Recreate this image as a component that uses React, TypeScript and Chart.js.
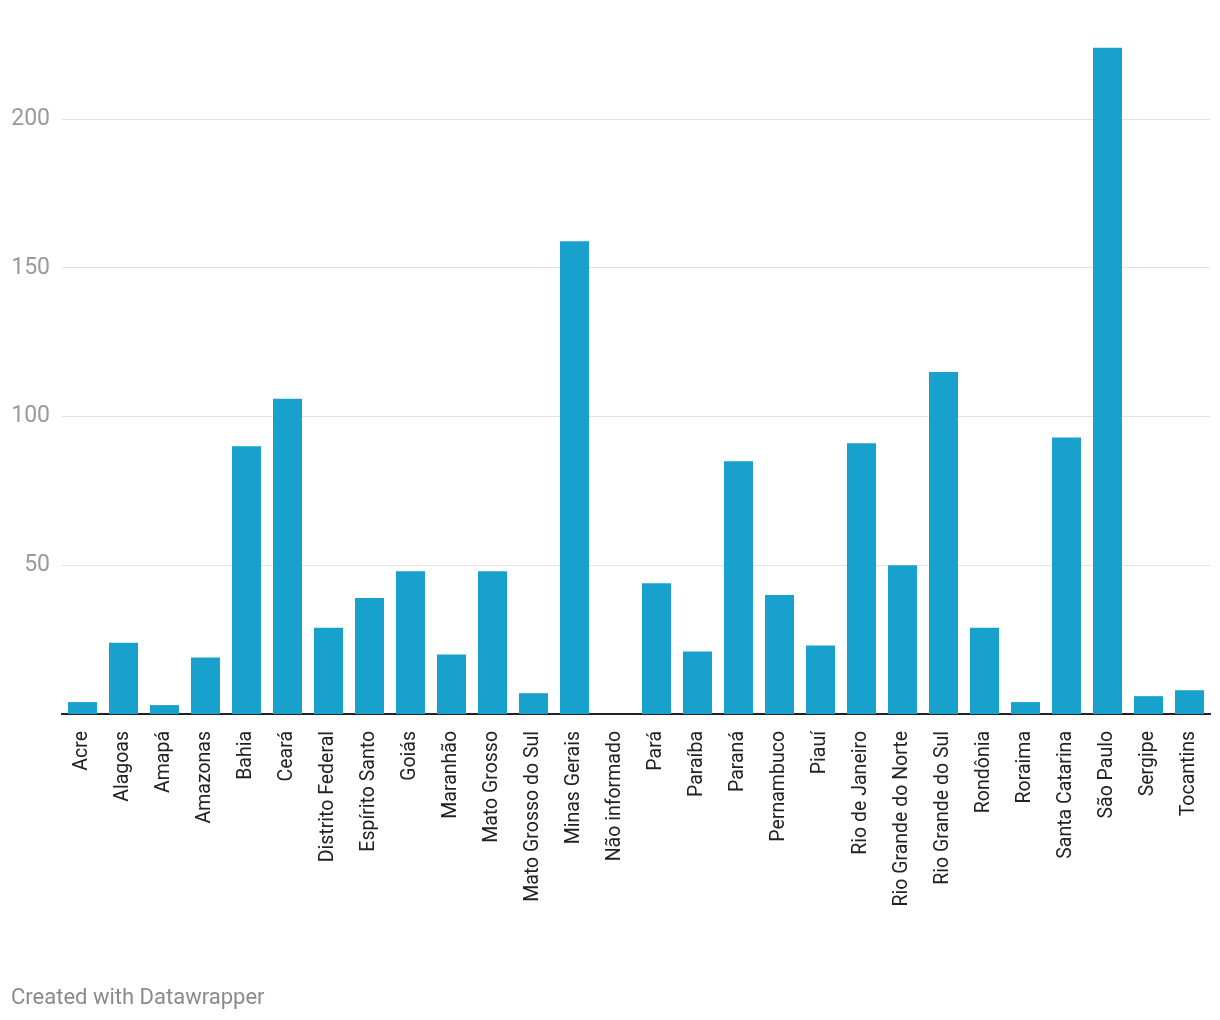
import React, { useEffect, useRef } from "react";
import { Chart, registerables } from "chart.js";

Chart.register(...registerables);

const categories = [
  "Acre", "Alagoas", "Amapá", "Amazonas", "Bahia", "Ceará", "Distrito Federal",
  "Espírito Santo", "Goiás", "Maranhão", "Mato Grosso", "Mato Grosso do Sul",
  "Minas Gerais", "Não informado", "Pará", "Paraíba", "Paraná", "Pernambuco",
  "Piauí", "Rio de Janeiro", "Rio Grande do Norte", "Rio Grande do Sul",
  "Rondônia", "Roraima", "Santa Catarina", "São Paulo", "Sergipe", "Tocantins",
];

const values = [
  4, 24, 3, 19, 90, 106, 29, 39, 48, 20, 48, 7, 159, 0, 44, 21, 85, 40, 23, 91,
  50, 115, 29, 4, 93, 224, 6, 8,
];

const yTicks = [50, 100, 150, 200];

const footerText = "Created with Datawrapper";

export default function App() {
  const ref = useRef<HTMLCanvasElement>(null);

  useEffect(() => {
    if (!ref.current) return;
    const chart = new Chart(ref.current, {
      type: "bar",
      data: {
        labels: categories,
        datasets: [
          {
            data: values,
            backgroundColor: "#18a1cd",
            borderWidth: 0,
            categoryPercentage: 1,
            barPercentage: 0.707,
          },
        ],
      },
      options: {
        responsive: false,
        animation: false,
        devicePixelRatio: 1,
        layout: { padding: { left: 0, right: 10, top: 30, bottom: 0 } },
        plugins: {
          legend: { display: false },
          tooltip: { enabled: false },
        },
        scales: {
          x: {
            grid: { display: false, drawTicks: false },
            border: { display: true, color: "#222", width: 2 },
            ticks: {
              autoSkip: false,
              maxRotation: 90,
              minRotation: 90,
              padding: 17,
              color: "#222",
              font: { family: "Roboto", size: 19.5 },
            },
            afterFit: (scale: any) => {
              scale.height = 306;
              scale.paddingLeft = 0;
              scale.paddingRight = 0;
            },
          },
          y: {
            min: 0,
            max: 230,
            grid: { color: "#e3e3e3", drawTicks: false, lineWidth: 1 },
            border: { display: false },
            ticks: {
              padding: 12,
              color: "#9a9a9a",
              font: { family: "Roboto", size: 23 },
            },
            afterBuildTicks: (scale: any) => {
              scale.ticks = yTicks.map((v) => ({ value: v }));
            },
            afterFit: (scale: any) => {
              scale.width = 62;
              scale.paddingTop = 0;
              scale.paddingBottom = 0;
            },
          },
        },
      },
    });
    return () => chart.destroy();
  }, []);

  return (
    <div style={{ position: "fixed", left: 0, top: 0, width: 1220, height: 1020, background: "#fff" }}>
      <canvas ref={ref} width={1220} height={1020} style={{ display: "block" }} />
      <div
        style={{
          position: "absolute",
          left: 11,
          top: 983,
          fontFamily: "Roboto",
          fontSize: 22,
          color: "#8a8a8a",
          lineHeight: "28px",
          whiteSpace: "nowrap",
        }}
      >
        {footerText}
      </div>
    </div>
  );
}
